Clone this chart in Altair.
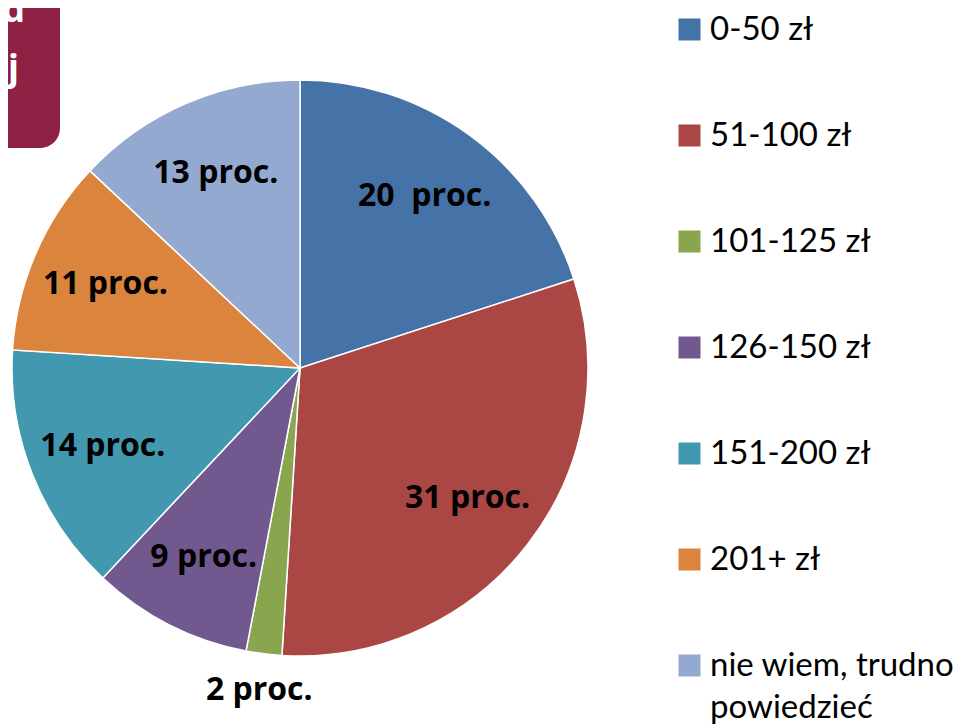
import altair as alt
import pandas as pd

categories = ["0-50 zł", "51-100 zł", "101-125 zł", "126-150 zł", "151-200 zł",
              "201+ zł", "nie wiem, trudno powiedzieć"]
values = [20, 31, 2, 9, 14, 11, 13]
labels = ["20 \u00a0proc.", "31 proc.", "2 proc.", "9 proc.", "14 proc.", "11 proc.", "13 proc."]
colors = ["#4572A7", "#AA4643", "#89A54E", "#71588F", "#4198AF", "#DB843D", "#93A9CF"]
box_texts = ["d", "j"]

df = pd.DataFrame({"cat": categories, "pct": values, "label": labels,
                   "idx": list(range(len(categories)))})
total = sum(values)

legend = alt.Legend(
    orient="none", legendX=665, legendY=5, title=None,
    symbolType="square", symbolSize=484, symbolStrokeWidth=0,
    labelFont="Lato", labelFontSize=33, labelColor="black",
    labelLimit=400, labelOffset=4, rowPadding=72, padding=0,
    labelExpr="datum.label == 'nie wiem, trudno powiedzieć' ? ['nie wiem, trudno', 'powiedzieć'] : datum.label",
)

theta_scale = alt.Scale(domain=[0, total])

pie = alt.Chart(df).mark_arc(outerRadius=288, stroke="white", strokeWidth=1.5).encode(
    theta=alt.Theta("pct:Q", stack=True, scale=theta_scale),
    order=alt.Order("idx:Q"),
    color=alt.Color("cat:N", sort=categories,
                    scale=alt.Scale(domain=categories, range=colors), legend=legend),
    x=alt.value(292), y=alt.value(360),
)

text = alt.Chart(df).transform_stack(
    stack="pct", groupby=[], as_=["t0", "t1"], sort=[alt.SortField("idx")]
).transform_calculate(
    mid="(datum.t0 + datum.t1) / 2",
    lr="datum.pct < 5 ? 325 : 212",
).mark_text(
    font="Open Sans", fontSize=32, fontWeight="bold", color="black",
    align="center", baseline="middle",
).encode(
    theta=alt.Theta("mid:Q", stack=None, scale=theta_scale),
    radius=alt.Radius("lr:Q", scale=None),
    text="label:N",
    x=alt.value(292), y=alt.value(360),
)

box = alt.Chart(pd.DataFrame({"t": [box_texts[0]]})).mark_rect(
    cornerRadius=20, color="#8E2144").encode(
    x=alt.value(-30), x2=alt.value(52), y=alt.value(-30), y2=alt.value(140)
)
bt1 = alt.Chart(pd.DataFrame({"t": [box_texts[0]]})).mark_text(
    font="Open Sans", fontSize=36, fontWeight="bold", color="white",
    align="right", baseline="alphabetic").encode(
    text="t:N", x=alt.value(17), y=alt.value(14))
bt2 = alt.Chart(pd.DataFrame({"t": [box_texts[1]]})).mark_text(
    font="Open Sans", fontSize=36, fontWeight="bold", color="white",
    align="right", baseline="alphabetic").encode(
    text="t:N", x=alt.value(11), y=alt.value(72))

chart = alt.layer(box, bt1, bt2, pie, text).properties(
    width=959, height=719, autosize=alt.AutoSizeParams(type="none"), padding=0
).configure(
    style={"guide-label": {"lineHeight": 42}},
    view=alt.ViewConfig(stroke=None),
)

chart.save("out.html", embed_options={"renderer": "svg", "actions": False})
